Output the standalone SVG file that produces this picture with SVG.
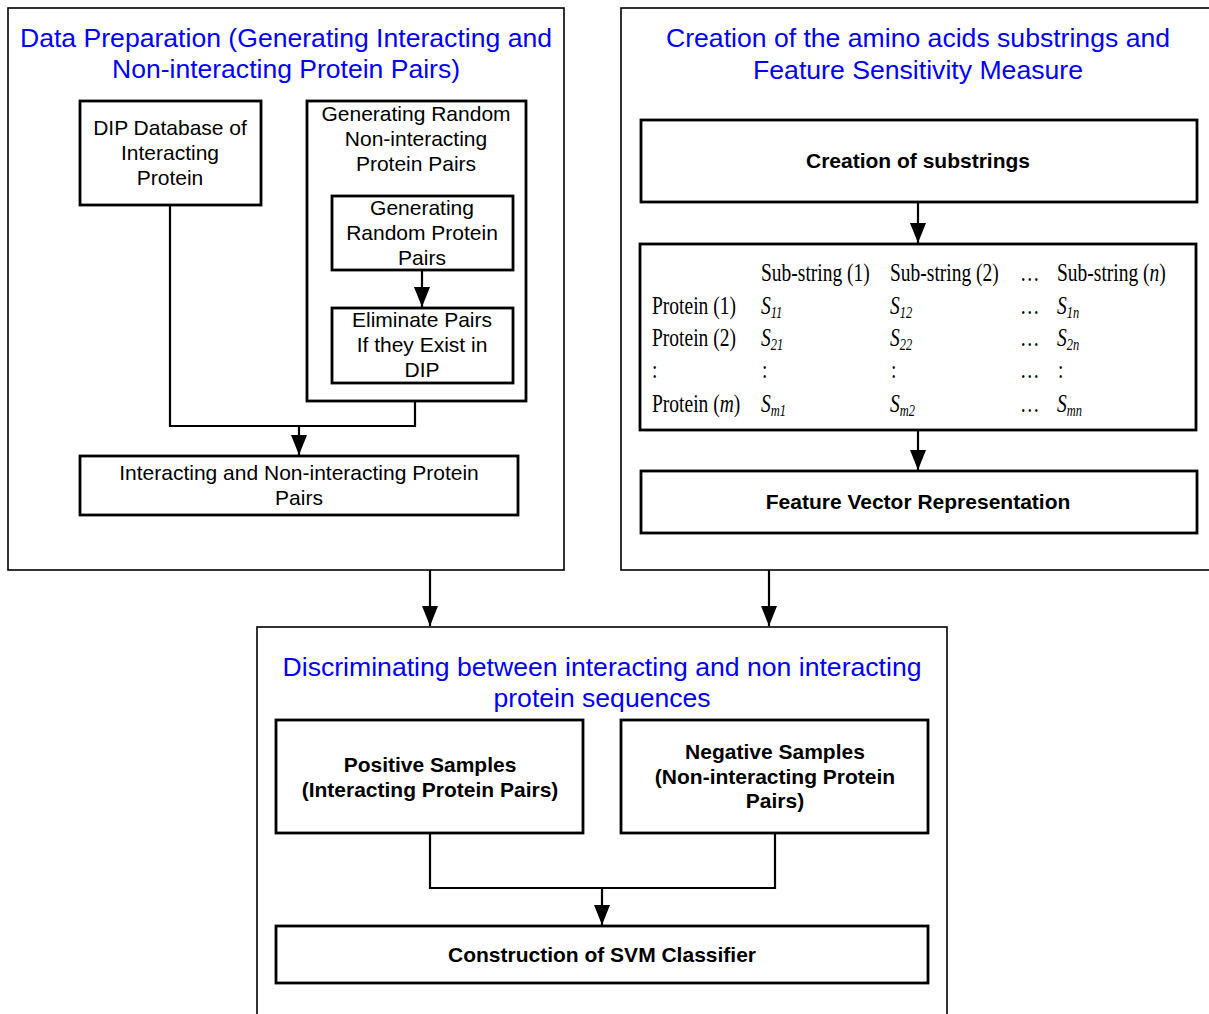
<svg xmlns="http://www.w3.org/2000/svg" width="1209" height="1014" viewBox="0 0 1209 1014">
<style>
.outer{fill:none;stroke:#000;stroke-width:1.6}
.box{fill:#fff;stroke:#000;stroke-width:2.8}
.conn{fill:none;stroke:#000;stroke-width:2.2}
.title{font-family:"Liberation Sans",Arial,sans-serif;font-size:26px;fill:#0000ff;text-anchor:middle}
.lbl{font-family:"Liberation Sans",Arial,sans-serif;font-size:21px;fill:#000;text-anchor:middle}
.blbl{font-family:"Liberation Sans",Arial,sans-serif;font-size:21px;font-weight:bold;fill:#000;text-anchor:middle}
.tb{font-family:"Liberation Serif","Times New Roman",serif;font-size:25px;fill:#000}
.it{font-style:italic}
.sub{font-size:16px}
</style>
<defs>
<marker id="ah" markerUnits="userSpaceOnUse" markerWidth="20" markerHeight="18" refX="20" refY="8" orient="auto" viewBox="0 0 20 16">
<path d="M0,0 L20,8 L0,16 Z" fill="#000"/>
</marker>
</defs>
<rect width="1209" height="1014" fill="#fff"/>

<g id="connectors">
<path class="conn" d="M170,205 V426 H415 V401"/>
<path class="conn" d="M299,426 V455" marker-end="url(#ah)"/>
<path class="conn" d="M422,270 V307" marker-end="url(#ah)"/>
<path class="conn" d="M918,202 V243" marker-end="url(#ah)"/>
<path class="conn" d="M918,430 V470" marker-end="url(#ah)"/>
<path class="conn" d="M430,570 V626" marker-end="url(#ah)"/>
<path class="conn" d="M769,570 V626" marker-end="url(#ah)"/>
<path class="conn" d="M430,833 V888 H775 V833"/>
<path class="conn" d="M602,888 V925" marker-end="url(#ah)"/>
</g>

<g id="data-preparation">
<rect class="outer" x="8" y="8" width="556" height="562"/>
<text class="title" x="286" y="47" textLength="532" lengthAdjust="spacingAndGlyphs">Data Preparation (Generating Interacting and</text>
<text class="title" x="286" y="78" textLength="348" lengthAdjust="spacingAndGlyphs">Non-interacting Protein Pairs)</text>
</g>

<g id="dip-database">
<rect class="box" x="80" y="101" width="181" height="104"/>
<text class="lbl" x="170" y="135">DIP Database of</text>
<text class="lbl" x="170" y="160">Interacting</text>
<text class="lbl" x="170" y="185">Protein</text>
</g>

<g id="generating-random">
<rect class="box" x="307" y="101" width="219" height="300" style="fill:none"/>
<text class="lbl" x="416" y="121">Generating Random</text>
<text class="lbl" x="416" y="146">Non-interacting</text>
<text class="lbl" x="416" y="171">Protein Pairs</text>
</g>

<g id="generating-pairs">
<rect class="box" x="332" y="196" width="181" height="74"/>
<text class="lbl" x="422" y="215">Generating</text>
<text class="lbl" x="422" y="240">Random Protein</text>
<text class="lbl" x="422" y="265">Pairs</text>
</g>

<g id="eliminate-pairs">
<rect class="box" x="332" y="308" width="181" height="75"/>
<text class="lbl" x="422" y="327">Eliminate Pairs</text>
<text class="lbl" x="422" y="352">If they Exist in</text>
<text class="lbl" x="422" y="377">DIP</text>
</g>

<g id="interacting-pairs">
<rect class="box" x="80" y="456" width="438" height="59"/>
<text class="lbl" x="299" y="480">Interacting and Non-interacting Protein</text>
<text class="lbl" x="299" y="505">Pairs</text>
</g>

<g id="substring-creation">
<rect class="outer" x="621" y="8" width="592" height="562"/>
<text class="title" x="918" y="47" textLength="504" lengthAdjust="spacingAndGlyphs">Creation of the amino acids substrings and</text>
<text class="title" x="918" y="79" textLength="330" lengthAdjust="spacingAndGlyphs">Feature Sensitivity Measure</text>
</g>

<g id="creation-of-substrings">
<rect class="box" x="641" y="120" width="556" height="82"/>
<text class="blbl" x="918" y="168">Creation of substrings</text>
</g>

<g id="substring-table">
<rect class="box" x="640" y="244" width="556" height="186"/>
<text class="tb" transform="matrix(0.78,0,0,1,761,281)">Sub-string (1)</text>
<text class="tb" transform="matrix(0.78,0,0,1,890,281)">Sub-string (2)</text>
<text class="tb" transform="matrix(0.78,0,0,1,1020,281)">…</text>
<text class="tb" transform="matrix(0.78,0,0,1,1057,281)">Sub-string (<tspan class="it">n</tspan>)</text>

<text class="tb" transform="matrix(0.78,0,0,1,652,314)">Protein (1)</text>
<text class="tb it" transform="matrix(0.78,0,0,1,761,314)">S<tspan class="sub" dy="4">11</tspan></text>
<text class="tb it" transform="matrix(0.78,0,0,1,890,314)">S<tspan class="sub" dy="4">12</tspan></text>
<text class="tb" transform="matrix(0.78,0,0,1,1020,314)">…</text>
<text class="tb it" transform="matrix(0.78,0,0,1,1057,314)">S<tspan class="sub" dy="4">1n</tspan></text>

<text class="tb" transform="matrix(0.78,0,0,1,652,346)">Protein (2)</text>
<text class="tb it" transform="matrix(0.78,0,0,1,761,346)">S<tspan class="sub" dy="4">21</tspan></text>
<text class="tb it" transform="matrix(0.78,0,0,1,890,346)">S<tspan class="sub" dy="4">22</tspan></text>
<text class="tb" transform="matrix(0.78,0,0,1,1020,346)">…</text>
<text class="tb it" transform="matrix(0.78,0,0,1,1057,346)">S<tspan class="sub" dy="4">2n</tspan></text>

<text class="tb" transform="matrix(0.78,0,0,1,652,378)">:</text>
<text class="tb" transform="matrix(0.78,0,0,1,762,378)">:</text>
<text class="tb" transform="matrix(0.78,0,0,1,891,378)">:</text>
<text class="tb" transform="matrix(0.78,0,0,1,1020,378)">…</text>
<text class="tb" transform="matrix(0.78,0,0,1,1058,378)">:</text>

<text class="tb" transform="matrix(0.78,0,0,1,652,412)">Protein (<tspan class="it">m</tspan>)</text>
<text class="tb it" transform="matrix(0.78,0,0,1,761,412)">S<tspan class="sub" dy="4">m1</tspan></text>
<text class="tb it" transform="matrix(0.78,0,0,1,890,412)">S<tspan class="sub" dy="4">m2</tspan></text>
<text class="tb" transform="matrix(0.78,0,0,1,1020,412)">…</text>
<text class="tb it" transform="matrix(0.78,0,0,1,1057,412)">S<tspan class="sub" dy="4">mn</tspan></text>
</g>

<g id="feature-vector">
<rect class="box" x="641" y="471" width="556" height="62"/>
<text class="blbl" x="918" y="509">Feature Vector Representation</text>
</g>

<g id="discrimination">
<rect class="outer" x="257" y="627" width="690" height="400"/>
<text class="title" x="602" y="676" textLength="639" lengthAdjust="spacingAndGlyphs">Discriminating between interacting and non interacting</text>
<text class="title" x="602" y="707" textLength="217" lengthAdjust="spacingAndGlyphs">protein sequences</text>
</g>

<g id="positive-samples">
<rect class="box" x="276" y="720" width="307" height="113"/>
<text class="blbl" x="430" y="772">Positive Samples</text>
<text class="blbl" x="430" y="797">(Interacting Protein Pairs)</text>
</g>

<g id="negative-samples">
<rect class="box" x="621" y="720" width="307" height="113"/>
<text class="blbl" x="775" y="759">Negative Samples</text>
<text class="blbl" x="775" y="784">(Non-interacting Protein</text>
<text class="blbl" x="775" y="808">Pairs)</text>
</g>

<g id="svm-classifier">
<rect class="box" x="276" y="926" width="652" height="57"/>
<text class="blbl" x="602" y="962">Construction of SVM Classifier</text>
</g>
</svg>
